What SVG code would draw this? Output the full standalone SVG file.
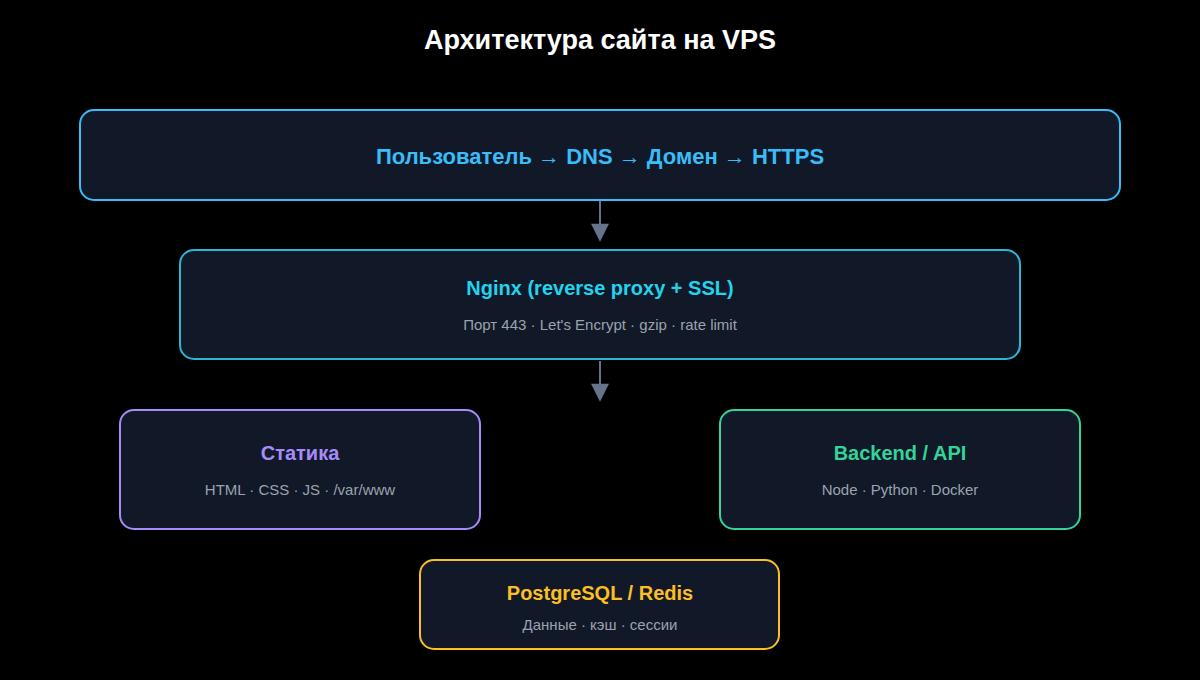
<svg xmlns="http://www.w3.org/2000/svg" width="1200" height="680" viewBox="0 0 1200 680">
<style>
.box{fill:#111827;stroke-width:2}
.t{font-family:"Liberation Sans",Arial,sans-serif;font-weight:bold;font-size:20px;text-anchor:middle}
.s{font-family:"Liberation Sans",Arial,sans-serif;font-size:15px;fill:#9ca3af;text-anchor:middle}
.c{stroke:#64748b;stroke-width:2;fill:none}
</style>
<defs><marker id="a" viewBox="0 0 10 10" refX="9" refY="5" markerWidth="20" markerHeight="18" markerUnits="userSpaceOnUse" orient="auto"><path d="M0,0L10,5L0,10z" fill="#64748b"/></marker></defs>
<rect width="1200" height="680" fill="#000"/>
<text x="600" y="49" class="t" style="fill:#fff;font-size:27px">Архитектура сайта на VPS</text>
<g id="connectors">
<line class="c" x1="600" y1="201" x2="600" y2="240" marker-end="url(#a)"/>
<line class="c" x1="600" y1="361" x2="600" y2="400" marker-end="url(#a)"/>
</g>
<g id="user"><rect class="box" x="80" y="110" width="1040" height="90" rx="14" stroke="#38bdf8"/>
<text x="600" y="164" class="t" style="fill:#38bdf8;font-size:22px">Пользователь → DNS → Домен → HTTPS</text></g>
<g id="nginx"><rect class="box" x="180" y="250" width="840" height="109" rx="14" stroke="#2ab7d0"/>
<text x="600" y="295" class="t" style="fill:#22d3ee">Nginx (reverse proxy + SSL)</text>
<text x="600" y="330" class="s">Порт 443 · Let's Encrypt · gzip · rate limit</text></g>
<g id="static"><rect class="box" x="120" y="410" width="360" height="119" rx="14" stroke="#a78bfa"/>
<text x="300" y="460" class="t" style="fill:#a78bfa">Статика</text>
<text x="300" y="495" class="s">HTML · CSS · JS · /var/www</text></g>
<g id="backend"><rect class="box" x="720" y="410" width="360" height="119" rx="14" stroke="#34d399"/>
<text x="900" y="460" class="t" style="fill:#34d399">Backend / API</text>
<text x="900" y="495" class="s">Node · Python · Docker</text></g>
<g id="db"><rect class="box" x="420" y="560" width="359" height="89" rx="14" stroke="#fbbf24"/>
<text x="600" y="600" class="t" style="fill:#fbbf24">PostgreSQL / Redis</text>
<text x="600" y="630" class="s">Данные · кэш · сессии</text></g>
</svg>
